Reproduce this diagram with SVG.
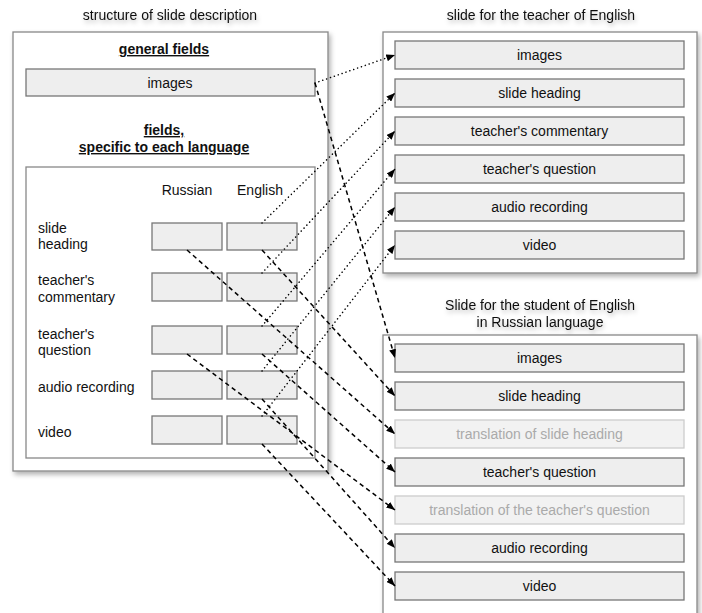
<svg xmlns="http://www.w3.org/2000/svg" width="702" height="613" viewBox="0 0 702 613">
  <defs>
    <filter id="sh" x="-10%" y="-10%" width="125%" height="125%">
      <feDropShadow dx="2" dy="3" stdDeviation="2.5" flood-color="#000" flood-opacity="0.3"/>
    </filter>
    <filter id="tsh" x="-10%" y="-50%" width="120%" height="250%">
      <feDropShadow dx="1" dy="3" stdDeviation="2" flood-color="#000" flood-opacity="0.25"/>
    </filter>
    <marker id="ah" viewBox="0 0 10 8" refX="10" refY="4" markerWidth="9" markerHeight="7" markerUnits="userSpaceOnUse" orient="auto">
      <path d="M0,0 L10,4 L0,8 Z" fill="#000"/>
    </marker>
    <style>
      text { font-family: "Liberation Sans", Arial, sans-serif; font-size: 14px; fill: #111; }
      .c { text-anchor: middle; }
      .b { font-weight: bold; text-decoration: underline; }
      .frame { fill: #fff; stroke: #888; stroke-width: 1.3; }
      .inner { fill: #fff; stroke: #888; stroke-width: 1.3; }
      .fld { fill: #eeeeee; stroke: #777; stroke-width: 1.3; }
      .ghost { fill: #f2f2f2; stroke: #ccc; stroke-width: 1.3; }
      .gt { fill: #aaa; }
      .dot { fill: none; stroke: #000; stroke-width: 1.5; stroke-dasharray: 0.1 4; stroke-linecap: round; }
      .dash { fill: none; stroke: #000; stroke-width: 1.5; stroke-dasharray: 4.5 3.5; }
    </style>
  </defs>

  <rect width="702" height="613" fill="#fff"/>

  <g id="titles" filter="url(#tsh)">
    <text class="c" x="170" y="20">structure of slide description</text>
    <text class="c" x="541" y="20">slide for the teacher of English</text>
    <text class="c" x="540" y="310">Slide for the student of English</text>
    <text class="c" x="540" y="327">in Russian language</text>
  </g>

  <g id="slide-description">
    <rect class="frame" x="13" y="32" width="315" height="439" filter="url(#sh)"/>
    <text class="c b" x="164" y="54">general fields</text>
    <g id="gen-images">
      <rect class="fld" x="26" y="69" width="289" height="27"/>
      <text class="c" x="170" y="88">images</text>
    </g>
    <text class="c b" x="164" y="135">fields,</text>
    <text class="c b" x="164" y="152">specific to each language</text>
    <rect class="inner" x="26" y="167" width="289" height="291"/>
    <text class="c" x="187" y="195">Russian</text>
    <text class="c" x="260" y="195">English</text>

    <g id="row-heading">
      <text x="38" y="233">slide</text>
      <text x="38" y="249">heading</text>
      <rect class="fld" x="152" y="223" width="70" height="27"/>
      <rect class="fld" x="227" y="223" width="70" height="27"/>
    </g>
    <g id="row-commentary">
      <text x="38" y="285">teacher's</text>
      <text x="38" y="302">commentary</text>
      <rect class="fld" x="152" y="273" width="70" height="28"/>
      <rect class="fld" x="227" y="273" width="70" height="28"/>
    </g>
    <g id="row-question">
      <text x="38" y="339">teacher's</text>
      <text x="38" y="355">question</text>
      <rect class="fld" x="152" y="326" width="70" height="28"/>
      <rect class="fld" x="227" y="326" width="70" height="28"/>
    </g>
    <g id="row-audio">
      <text x="38" y="392">audio recording</text>
      <rect class="fld" x="152" y="371" width="70" height="28"/>
      <rect class="fld" x="227" y="371" width="70" height="28"/>
    </g>
    <g id="row-video">
      <text x="38" y="437">video</text>
      <rect class="fld" x="152" y="416" width="70" height="28"/>
      <rect class="fld" x="227" y="416" width="70" height="28"/>
    </g>
  </g>

  <g id="teacher-slide">
    <rect class="frame" x="383" y="32" width="314" height="241" filter="url(#sh)"/>
    <g id="t-images"><rect class="fld" x="395" y="41" width="289" height="28"/><text class="c" x="539.5" y="60">images</text></g>
    <g id="t-heading"><rect class="fld" x="395" y="79" width="289" height="28"/><text class="c" x="539.5" y="98">slide heading</text></g>
    <g id="t-commentary"><rect class="fld" x="395" y="117" width="289" height="28"/><text class="c" x="539.5" y="136">teacher's commentary</text></g>
    <g id="t-question"><rect class="fld" x="395" y="155" width="289" height="28"/><text class="c" x="539.5" y="174">teacher's question</text></g>
    <g id="t-audio"><rect class="fld" x="395" y="193" width="289" height="28"/><text class="c" x="539.5" y="212">audio recording</text></g>
    <g id="t-video"><rect class="fld" x="395" y="231" width="289" height="28"/><text class="c" x="539.5" y="250">video</text></g>
  </g>

  <g id="student-slide">
    <rect class="frame" x="383" y="335" width="314" height="280" filter="url(#sh)"/>
    <g id="s-images"><rect class="fld" x="395" y="344" width="289" height="28"/><text class="c" x="539.5" y="363">images</text></g>
    <g id="s-heading"><rect class="fld" x="395" y="382" width="289" height="28"/><text class="c" x="539.5" y="401">slide heading</text></g>
    <g id="s-heading-tr"><rect class="ghost" x="395" y="420" width="289" height="28"/><text class="c gt" x="539.5" y="439">translation of slide heading</text></g>
    <g id="s-question"><rect class="fld" x="395" y="458" width="289" height="28"/><text class="c" x="539.5" y="477">teacher's question</text></g>
    <g id="s-question-tr"><rect class="ghost" x="395" y="496" width="289" height="28"/><text class="c gt" x="539.5" y="515">translation of the teacher's question</text></g>
    <g id="s-audio"><rect class="fld" x="395" y="534" width="289" height="28"/><text class="c" x="539.5" y="553">audio recording</text></g>
    <g id="s-video"><rect class="fld" x="395" y="572" width="289" height="28"/><text class="c" x="539.5" y="591">video</text></g>
  </g>

  <g id="connectors">
    <line class="dot" x1="315" y1="83" x2="395" y2="55" marker-end="url(#ah)"/>
    <line class="dot" x1="262" y1="223" x2="395" y2="93" marker-end="url(#ah)"/>
    <line class="dot" x1="262" y1="273" x2="395" y2="131" marker-end="url(#ah)"/>
    <line class="dot" x1="262" y1="326" x2="395" y2="169" marker-end="url(#ah)"/>
    <line class="dot" x1="262" y1="371" x2="395" y2="207" marker-end="url(#ah)"/>
    <line class="dot" x1="262" y1="416" x2="395" y2="245" marker-end="url(#ah)"/>

    <line class="dash" x1="315" y1="83" x2="395" y2="358" marker-end="url(#ah)"/>
    <line class="dash" x1="262" y1="250" x2="395" y2="396" marker-end="url(#ah)"/>
    <line class="dash" x1="187" y1="250" x2="395" y2="434" marker-end="url(#ah)"/>
    <line class="dash" x1="262" y1="354" x2="395" y2="472" marker-end="url(#ah)"/>
    <line class="dash" x1="187" y1="354" x2="395" y2="510" marker-end="url(#ah)"/>
    <line class="dash" x1="262" y1="399" x2="395" y2="548" marker-end="url(#ah)"/>
    <line class="dash" x1="262" y1="444" x2="395" y2="586" marker-end="url(#ah)"/>
  </g>
</svg>
